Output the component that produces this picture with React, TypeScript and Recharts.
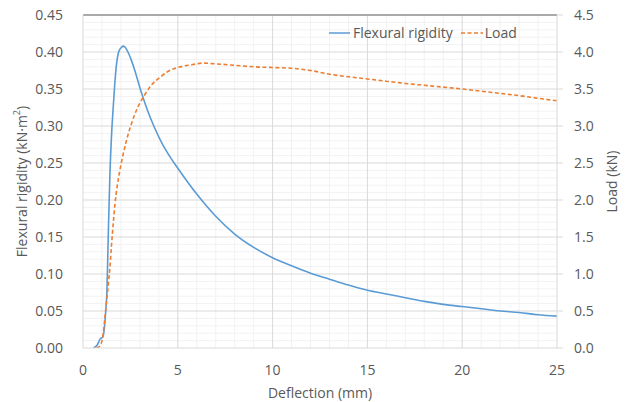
import React from 'react';
import { ComposedChart, Line, XAxis, YAxis, ReferenceLine, Label } from 'recharts';

// Flexural rigidity (kN·m²) vs deflection (mm)
const rigidityDeflection = [0.55, 0.75, 0.9, 1.05, 1.12, 1.2, 1.25, 1.35, 1.42, 1.5, 1.58, 1.67, 1.76, 1.85, 1.93, 2.02, 2.11, 2.2, 2.37, 2.55, 2.72, 3.07, 3.42, 3.77, 4.12, 4.65, 5.0, 6, 7, 8, 9, 10, 11, 12, 13, 14, 15, 16, 17, 18, 19, 20, 21, 22, 23, 24, 25];
const rigidityValues = [0, 0.004, 0.012, 0.015, 0.025, 0.05, 0.07, 0.17, 0.235, 0.285, 0.32, 0.355, 0.382, 0.397, 0.403, 0.406, 0.408, 0.407, 0.4, 0.389, 0.376, 0.346, 0.32, 0.298, 0.279, 0.256, 0.243, 0.208, 0.178, 0.154, 0.136, 0.122, 0.111, 0.101, 0.093, 0.085, 0.078, 0.073, 0.068, 0.063, 0.059, 0.056, 0.053, 0.05, 0.048, 0.045, 0.043];

// Load (kN) vs deflection (mm)
const loadDeflection = [0.72, 0.9, 1.0, 1.07, 1.15, 1.25, 1.35, 1.42, 1.5, 1.6, 1.68, 1.8, 1.93, 2.28, 2.72, 3.25, 3.6, 4.12, 4.5, 5.0, 5.79, 6.3, 7, 8, 9, 10, 11, 12, 13, 14, 15, 16, 17, 18, 19, 20, 21, 22, 23, 24, 25];
const loadValues = [0, 0.03, 0.1, 0.2, 0.4, 0.65, 0.9, 1.09, 1.38, 1.7, 1.93, 2.18, 2.38, 2.79, 3.15, 3.42, 3.55, 3.67, 3.74, 3.79, 3.83, 3.85, 3.84, 3.82, 3.8, 3.79, 3.78, 3.75, 3.7, 3.665, 3.635, 3.605, 3.575, 3.55, 3.525, 3.5, 3.47, 3.44, 3.41, 3.375, 3.34];

const xTicks = [0, 5, 10, 15, 20, 25];
const leftTicks = [0, 0.05, 0.1, 0.15, 0.2, 0.25, 0.3, 0.35, 0.4, 0.45];
const rightTicks = [0, 0.5, 1, 1.5, 2, 2.5, 3, 3.5, 4, 4.5];
const xMinor = Array.from({ length: 26 }, (_, i) => i).filter((v) => v % 5 !== 0);
const yMinor = Array.from({ length: 46 }, (_, i) => i).filter((v) => v % 5 !== 0).map((v) => v / 100);

const rigidityData = rigidityDeflection.map((x, i) => ({ x, rigidity: rigidityValues[i] }));
const loadData = loadDeflection.map((x, i) => ({ x, load: loadValues[i] }));

const FONT = '"Open Sans", sans-serif';
const TEXT = '#595959';
const BLUE = '#5B9BD5';
const ORANGE = '#ED7D31';

const LegendContent = () => (
  <div style={{ display: 'flex', alignItems: 'center', fontFamily: FONT, fontSize: 14, color: TEXT, whiteSpace: 'nowrap' }}>
    <svg width={21} height={4}><line x1={0} y1={2} x2={21} y2={2} stroke={BLUE} strokeWidth={1.5} /></svg>
    <span style={{ marginLeft: 3 }}>Flexural rigidity</span>
    <svg width={22} height={4} style={{ marginLeft: 8 }}><line x1={0} y1={2} x2={22} y2={2} stroke={ORANGE} strokeWidth={1.5} strokeDasharray="4 2.5" /></svg>
    <span style={{ marginLeft: 2 }}>Load</span>
  </div>
);

const makeLabel = (text: string, dxFn: (vb: any) => number, vertical: boolean, dyFn?: (vb: any) => number) => (props: any) => {
  const vb = props.viewBox || {};
  const cx = dxFn(vb);
  const cy = dyFn ? dyFn(vb) : vb.y + vb.height / 2;
  return (
    <text
      x={cx}
      y={cy}
      textAnchor="middle"
      dominantBaseline="central"
      fill={TEXT}
      fontFamily={FONT}
      fontSize={14}
      transform={vertical ? `rotate(-90, ${cx}, ${cy})` : undefined}
    >
      {text === 'left' ? (
        <>
          Flexural rigidity (kN·m<tspan dy={-5} fontSize={9}>2</tspan><tspan dy={5}>)</tspan>
        </>
      ) : (
        text
      )}
    </text>
  );
};

export default function App() {
  return (
    <div style={{ position: 'absolute', left: 0, top: 0, width: 631, height: 402, background: '#fff' }}>
      <ComposedChart width={631} height={402} margin={{ top: 15, right: 0, bottom: 0, left: 0 }}>
        <XAxis
          dataKey="x"
          type="number"
          domain={[0, 25]}
          ticks={xTicks}
          allowDataOverflow
          height={54}
          tickLine={false}
          tickSize={0}
          tickMargin={17}
          axisLine={{ stroke: '#d9d9d9' }}
          tick={{ fill: TEXT, fontFamily: FONT, fontSize: 14 }}
        >
          <Label content={makeLabel('Deflection (mm)', (vb) => vb.x + vb.width / 2, false, (vb) => vb.y + 44.5)} />
        </XAxis>
        <YAxis
          yAxisId="left"
          orientation="left"
          domain={[0, 0.45]}
          ticks={leftTicks}
          allowDataOverflow
          width={83}
          tickLine={false}
          tickSize={0}
          tickMargin={20}
          axisLine={{ stroke: '#d9d9d9' }}
          tickFormatter={(v: number) => v.toFixed(2)}
          tick={{ fill: TEXT, fontFamily: FONT, fontSize: 14 }}
        >
          <Label content={makeLabel('left', (vb) => vb.x + 21, true)} />
        </YAxis>
        <YAxis
          yAxisId="right"
          orientation="right"
          domain={[0, 4.5]}
          ticks={rightTicks}
          allowDataOverflow
          width={74}
          tickLine={{ stroke: '#d9d9d9' }}
          tickSize={6}
          tickMargin={11}
          axisLine={{ stroke: '#d9d9d9' }}
          tickFormatter={(v: number) => v.toFixed(1)}
          tick={{ fill: TEXT, fontFamily: FONT, fontSize: 14 }}
        >
          <Label content={makeLabel('Load (kN)', (vb) => vb.x + 54.7, true)} />
        </YAxis>

        {xMinor.map((v) => (
          <ReferenceLine key={'xm' + v} x={v} yAxisId="left" stroke="#f2f2f2" strokeWidth={1} zIndex={-60} />
        ))}
        {yMinor.map((v) => (
          <ReferenceLine key={'ym' + v} y={v} yAxisId="left" stroke="#f2f2f2" strokeWidth={1} zIndex={-60} />
        ))}
        {xTicks.filter((v) => v > 0 && v < 25).map((v) => (
          <ReferenceLine key={'xM' + v} x={v} yAxisId="left" stroke="#d9d9d9" strokeWidth={1} zIndex={-50} />
        ))}
        {leftTicks.filter((v) => v > 0 && v < 0.45).map((v) => (
          <ReferenceLine key={'yM' + v} y={v} yAxisId="left" stroke="#d9d9d9" strokeWidth={1} zIndex={-50} />
        ))}
        <ReferenceLine y={0.45} yAxisId="left" stroke="#8c8c8c" strokeWidth={1.3} zIndex={-40} />

        <Line
          data={rigidityData}
          dataKey="rigidity"
          yAxisId="left"
          type="monotone"
          stroke={BLUE}
          strokeWidth={1.6}
          dot={false}
          isAnimationActive={false}
        />
        <Line
          data={loadData}
          dataKey="load"
          yAxisId="right"
          type="monotone"
          stroke={ORANGE}
          strokeWidth={1.6}
          strokeDasharray="4 2.5"
          dot={false}
          isAnimationActive={false}
        />
      </ComposedChart>
      <div style={{ position: 'absolute', top: 23, left: 329 }}>
        <LegendContent />
      </div>
    </div>
  );
}
